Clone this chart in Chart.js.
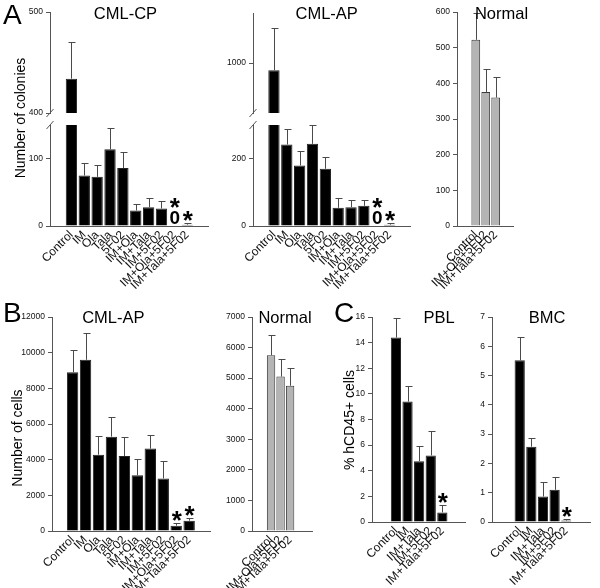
<!DOCTYPE html>
<html>
<head>
<meta charset="utf-8">
<script src="https://cdn.jsdelivr.net/npm/chart.js@4/dist/chart.umd.min.js"></script>
<style>
  body { margin: 0; background: #fff; }
  #fig { position: relative; width: 600px; height: 588px; overflow: hidden; font-family: Arial, "Liberation Sans", sans-serif; color: #000; }
  #fig canvas { position: absolute; }
  .t { position: absolute; white-space: nowrap; line-height: 1; }
</style>
</head>
<body>
<div id="fig"></div>
<script>
// categories
const labAll = ['Control', 'IM', 'Ola', 'Tala', '5F02', 'IM+Ola', 'IM+Tala', 'IM+5F02', 'IM+Ola+5F02', 'IM+Tala+5F02'];
const labNormal = ['Control', 'IM+Ola+5F02', 'IM+Tala+5F02'];
const labMouse = ['Control', 'IM', 'IM+Tala', 'IM+5F02', 'IM+Tala+5F02'];

// A: colonies (mean, +SEM)
const cpMean = [434, 75, 73, 114, 86, 23, 28, 26, 0, 2];
const cpErr  = [36, 19, 17, 31, 24, 9, 14, 11, 0, 3];
const apMean = [942, 242, 180, 244, 170, 54, 56, 60, 0, 4];
const apErr  = [340, 45, 42, 55, 36, 30, 22, 16, 0, 4];
const nColMean = [522, 376, 360];
const nColErr  = [76, 64, 58];

// B: cells
const apCellMean = [8900, 9600, 4280, 5290, 4200, 3120, 4620, 2950, 300, 580];
const apCellErr  = [1270, 1500, 1030, 1100, 1060, 920, 780, 970, 170, 150];
const nCellMean = [5750, 5050, 4750];
const nCellErr  = [650, 580, 580];

// C: % hCD45+
const pblMean = [14.4, 9.4, 4.75, 5.2, 0.75];
const pblErr  = [1.5, 1.25, 1.2, 1.9, 0.6];
const bmcMean = [5.52, 2.57, 0.87, 1.1, 0.05];
const bmcErr  = [0.78, 0.3, 0.5, 0.42, 0.04];

// tick values
const cpTicksLow = [0, 100], cpTicksHigh = [400, 500];
const apTicksLow = [0, 200], apTicksHigh = [1000];
const nColTicks = [0, 100, 200, 300, 400, 500, 600];
const apCellTicks = [0, 2000, 4000, 6000, 8000, 10000, 12000];
const nCellTicks = [0, 1000, 2000, 3000, 4000, 5000, 6000, 7000];
const pblTicks = [0, 2, 4, 6, 8, 10, 12, 14, 16];
const bmcTicks = [0, 1, 2, 3, 4, 5, 6, 7];

const FONT = 'Arial, "Liberation Sans", sans-serif';
const NARROW = '"Liberation Sans Narrow", "Arial Narrow", Arial, "Liberation Sans", sans-serif';
Chart.defaults.font.family = FONT;
const fig = document.getElementById('fig');

// +SEM whiskers
const errPlugin = {
  id: 'err',
  afterDatasetsDraw(chart) {
    const { ctx, chartArea: a, scales: { x, y } } = chart;
    const ds = chart.data.datasets[0];
    ctx.save();
    ctx.beginPath();
    ctx.rect(a.left, a.top - 1, a.width, a.height + 1);
    ctx.clip();
    ctx.strokeStyle = '#4a4a4a';
    ctx.lineWidth = 1;
    ds.data.forEach((p, i) => {
      if (!ds.err[i]) return;
      const px = Math.round(x.getPixelForValue(p.x)) + 0.5;
      const y0 = y.getPixelForValue(p.y);
      const y1 = Math.round(y.getPixelForValue(p.y + ds.err[i])) + 0.5;
      ctx.beginPath();
      ctx.moveTo(px, y0); ctx.lineTo(px, y1);
      ctx.moveTo(px - 3, y1); ctx.lineTo(px + 4, y1);
      ctx.stroke();
    });
    ctx.restore();
  }
};

// "0" and "*" marks
const marksPlugin = {
  id: 'marks',
  afterDatasetsDraw(chart, args, o) {
    const { ctx, scales: { x, y } } = chart;
    const ds = chart.data.datasets[0];
    const zeros = o.zeros || [], stars = o.stars || [];
    ctx.save();
    ctx.fillStyle = '#000';
    ctx.textAlign = 'center';
    ctx.textBaseline = 'alphabetic';
    const base = y.getPixelForValue(0) - 2;
    zeros.forEach(i => {
      ctx.font = 'bold 19px ' + FONT;
      ctx.fillText('0', x.getPixelForValue(i) + 0.5, base);
    });
    stars.forEach(i => {
      const top = zeros.includes(i) ? base - 14 : y.getPixelForValue(ds.data[i].y + ds.err[i]);
      ctx.font = 'bold 26px ' + FONT;
      ctx.fillText('*', x.getPixelForValue(i) + 0.5, top - 8 + 14);
    });
    ctx.restore();
  }
};

// axis break slashes
const breakPlugin = {
  id: 'brk',
  afterDraw(chart, args, o) {
    if (!o.at) return;
    const { ctx, chartArea: a } = chart;
    const yy = o.at === 'top' ? a.top : a.bottom;
    ctx.save();
    ctx.strokeStyle = '#555';
    ctx.lineWidth = 1;
    ctx.beginPath();
    ctx.moveTo(a.left - 3.5, yy + 4);
    ctx.lineTo(a.left + 3.5, yy - 4);
    ctx.stroke();
    ctx.restore();
  }
};

function plot(box, labels, mean, err, o) {
  const yw = 32, padL = 2, padR = 4, padT = 10;
  const padB = o.noX ? 10 : 0, xh = o.noX ? 0 : 66;
  const w = box.r - box.l + yw + padL + padR;
  const h = box.b - box.t + padT + padB + xh;
  const cv = document.createElement('canvas');
  cv.width = w; cv.height = h;
  cv.style.width = w + 'px'; cv.style.height = h + 'px';
  cv.style.left = (box.l - yw - padL) + 'px';
  cv.style.top = (box.t - padT) + 'px';
  fig.appendChild(cv);

  new Chart(cv, {
    type: 'bar',
    data: {
      datasets: [{
        data: mean.map((y, x) => ({ x, y })),
        err,
        backgroundColor: o.grey ? '#b4b4b4' : '#000',
        borderColor: o.grey ? '#3a3a3a' : '#222',
        borderWidth: 1,
        barPercentage: 0.88,
        categoryPercentage: 1,
      }],
    },
    options: {
      responsive: false,
      animation: false,
      devicePixelRatio: 1,
      layout: { padding: { left: padL, right: padR, top: padT, bottom: padB } },
      plugins: {
        legend: { display: false },
        tooltip: { enabled: false },
        marks: { zeros: o.zeros, stars: o.stars },
        brk: { at: o.brk },
      },
      scales: {
        x: {
          type: 'linear',
          display: !o.noX,
          min: o.xmin, max: o.xmax,
          afterBuildTicks: s => { s.ticks = labels.map((_, i) => ({ value: i })); },
          afterFit: s => { s.height = xh; },
          grid: { display: false, drawTicks: false },
          border: { color: '#555' },
          ticks: {
            autoSkip: false, minRotation: 45, maxRotation: 45, padding: 2,
            color: '#111', font: { size: 12 },
            callback: v => labels[v],
          },
        },
        y: {
          min: o.ymin, max: o.ymax,
          afterBuildTicks: s => { s.ticks = o.ticks.map(v => ({ value: v })); },
          afterFit: s => { s.width = yw; },
          grid: { drawOnChartArea: false, color: '#555', tickLength: 4 },
          border: { color: '#555' },
          ticks: { padding: 3, color: '#111', font: { size: 8.5, family: NARROW }, callback: v => String(v) },
        },
      },
    },
    plugins: [errPlugin, marksPlugin, breakPlugin],
  });
}

// A – CML-CP (broken axis: lower + upper view of the same data)
plot({ l: 50, t: 125, r: 208, b: 226 }, labAll, cpMean, cpErr,
  { ymin: 0, ymax: 150, ticks: cpTicksLow, xmin: -1.05, xmax: 10, brk: 'top', zeros: [8], stars: [8, 9] });
plot({ l: 50, t: 12, r: 208, b: 113 }, labAll, cpMean, cpErr,
  { ymin: 400, ymax: 500, ticks: cpTicksHigh, xmin: -1.05, xmax: 10, brk: 'bottom', noX: true });

// A – CML-AP
plot({ l: 253, t: 125, r: 410, b: 226 }, labAll, apMean, apErr,
  { ymin: 0, ymax: 300, ticks: apTicksLow, xmin: -1.02, xmax: 9.98, brk: 'top', zeros: [8], stars: [8, 9] });
plot({ l: 253, t: 13, r: 410, b: 113 }, labAll, apMean, apErr,
  { ymin: 600, ymax: 1400, ticks: apTicksHigh, xmin: -1.02, xmax: 9.98, brk: 'bottom', noX: true });

// A – Normal
plot({ l: 457, t: 12, r: 513, b: 226 }, labNormal, nColMean, nColErr,
  { ymin: 0, ymax: 600, ticks: nColTicks, xmin: -0.95, xmax: 2.8, grey: true });

// B – CML-AP
plot({ l: 52, t: 317, r: 210, b: 531 }, labAll, apCellMean, apCellErr,
  { ymin: 0, ymax: 12000, ticks: apCellTicks, xmin: -0.98, xmax: 10, stars: [8, 9] });

// B – Normal
plot({ l: 252, t: 317, r: 312, b: 531 }, labNormal, nCellMean, nCellErr,
  { ymin: 0, ymax: 7000, ticks: nCellTicks, xmin: -0.95, xmax: 3.25, grey: true });

// C – PBL
plot({ l: 372, t: 317, r: 465, b: 522 }, labMouse, pblMean, pblErr,
  { ymin: 0, ymax: 16, ticks: pblTicks, xmin: -1.26, xmax: 5.15, stars: [4] });

// C – BMC
plot({ l: 492, t: 317, r: 590, b: 522 }, labMouse, bmcMean, bmcErr,
  { ymin: 0, ymax: 7, ticks: bmcTicks, xmin: -1.54, xmax: 5.2, stars: [4] });

// text: [text, x, capTop, size, anchor]
const texts = [
  ['A', 3, 5, 28, 'l'],
  ['B', 3, 303, 28, 'l'],
  ['C', 334, 303, 28, 'l'],
  ['CML-CP', 125.5, 7, 16.5, 'c'],
  ['CML-AP', 326.7, 7, 16.5, 'c'],
  ['Normal', 501.5, 7, 16.5, 'c'],
  ['CML-AP', 113.3, 311.5, 16.5, 'c'],
  ['Normal', 285, 311, 16.5, 'c'],
  ['PBL', 439, 311, 16.5, 'c'],
  ['BMC', 547, 311, 16.5, 'c'],
];
texts.forEach(([s, x, y, f, a]) => {
  const d = document.createElement('div');
  d.className = 't';
  d.textContent = s;
  d.style.fontSize = f + 'px';
  d.style.left = x + 'px';
  d.style.top = (y - 0.13 * f) + 'px';
  if (a === 'c') d.style.transform = 'translateX(-50%)';
  fig.appendChild(d);
});

// rotated axis titles: [text, centreX, centreY, size]
const vtexts = [
  ['Number of colonies', 20, 118, 14],
  ['Number of cells', 17, 438, 14],
  ['% hCD45+ cells', 349, 420, 14],
];
vtexts.forEach(([s, x, y, f]) => {
  const d = document.createElement('div');
  d.className = 't';
  d.textContent = s;
  d.style.fontSize = f + 'px';
  d.style.left = x + 'px';
  d.style.top = y + 'px';
  d.style.transform = 'translate(-50%, -50%) rotate(-90deg)';
  fig.appendChild(d);
});
</script>
</body>
</html>
